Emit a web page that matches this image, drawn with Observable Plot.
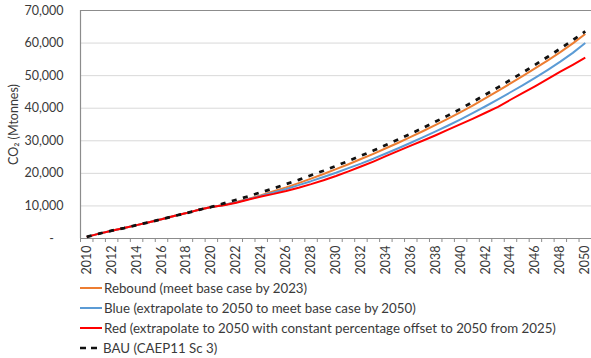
<!DOCTYPE html>
<html>
<head>
<meta charset="utf-8">
<script src="https://cdn.jsdelivr.net/npm/d3@7"></script>
<script src="https://cdn.jsdelivr.net/npm/@observablehq/plot@0.6"></script>
<style>
  html, body { margin: 0; padding: 0; background: #fff; }
  #chart { width: 591px; }
  .legend { font-family: Lato, "Liberation Sans", sans-serif; font-size: 13.3px; color: #3a3a3a; }
  .legend .row { height: 20px; display: flex; align-items: center; padding-left: 80px; }
  .legend svg { display: block; margin-right: 1px; }
</style>
</head>
<body>
<div id="chart"></div>
<script>
const years = [2010,2011,2012,2013,2014,2015,2016,2017,2018,2019,2020,2021,2022,2023,2024,2025,2026,2027,2028,2029,2030,2031,2032,2033,2034,2035,2036,2037,2038,2039,2040,2041,2042,2043,2044,2045,2046,2047,2048,2049,2050];
const labelYears = [2010,2012,2014,2016,2018,2020,2022,2024,2026,2028,2030,2032,2034,2036,2038,2040,2042,2044,2046,2048,2050];
const tickEdges = [2009.5,2010.5,2011.5,2012.5,2013.5,2014.5,2015.5,2016.5,2017.5,2018.5,2019.5,2020.5,2021.5,2022.5,2023.5,2024.5,2025.5,2026.5,2027.5,2028.5,2029.5,2030.5,2031.5,2032.5,2033.5,2034.5,2035.5,2036.5,2037.5,2038.5,2039.5,2040.5,2041.5,2042.5,2043.5,2044.5,2045.5,2046.5,2047.5,2048.5,2049.5,2050.5];
const xDomain = [2009.5, 2050.5];
const yDomain = [0, 70000];
const yTicks = [0,10000,20000,30000,40000,50000,60000,70000];
const gridTicks = [10000,20000,30000,40000,50000,60000];

const history = [500,1500,2400,3200,4100,5000,5900,6900,7800,8800,9700];
const rebound = [...history, 10300,11200,12200,13300,14500,15700,17000,18400,19800,21300, 22800,24400,26000,27700,29400,31200,33000,34900,36800,38800, 40900,43100,45300,47600,49900,52300,54700,57200,59900,62800];
const blue    = [...history, 10300,11100,12100,13100,14100,15200,16400,17600,18900,20200, 21600,23000,24500,26100,27700,29400,31100,32900,34700,36600, 38600,40600,42700,44900,47100,49400,51800,54300,57000,60000];
const red     = [...history, 10200,11000,12000,12900,13700,14600,15600,16700,17900,19200, 20600,22100,23600,25300,26900,28500,30100,31700,33400,35100, 36800,38600,40400,42600,44700,46800,49000,51200,53300,55500];
const bau     = [...history, 10800,11900,13000,14200,15400,16700,18000,19400,20800,22300, 23800,25400,27000,28700,30400,32200,34000,35900,37800,39800, 42000,44200,46400,48700,51000,53400,55800,58300,60900,63600];

const seriesNames = [
  "Rebound (meet base case by 2023)",
  "Blue (extrapolate to 2050 to meet base case by 2050)",
  "Red (extrapolate to 2050 with constant percentage offset to 2050 from 2025)",
  "BAU (CAEP11 Sc 3)"
];
const seriesValues = [rebound, blue, red, bau];
const seriesColors = ["#ED7D31", "#5B9BD5", "#FF0000", "#111111"];
const seriesWidths = [2, 2, 2, 2.75];
const seriesDash = [null, null, null, "5,6.5"];

const series = seriesNames.map((name, i) => ({
  name, color: seriesColors[i], width: seriesWidths[i], dash: seriesDash[i],
  rows: years.map((year, j) => ({year, value: seriesValues[i][j]}))
}));

const fmtY = d => d === 0 ? "-\u00a0\u00a0\u00a0" : d3.format(",")(d);

const plot = Plot.plot({
  width: 591,
  height: 278,
  marginLeft: 80,
  marginRight: 0,
  marginTop: 10,
  marginBottom: 40,
  x: {domain: xDomain},
  y: {domain: yDomain},
  style: {fontFamily: "Lato, 'Liberation Sans', sans-serif", fontSize: "12.5px", color: "#3a3a3a", background: "#fff"},
  marks: [
    Plot.ruleY(gridTicks, {stroke: "#d9d9d9", strokeWidth: 1}),
    Plot.ruleY(yDomain, {stroke: "#8c8c8c", strokeWidth: 1.2}),
    Plot.ruleX([xDomain[0]], {stroke: "#8c8c8c", strokeWidth: 1.2}),
    Plot.axisX(tickEdges, {tickSize: 4, tickFormat: () => "", stroke: "#8c8c8c", label: null}),
    Plot.axisX(labelYears, {tickSize: 0, tickPadding: 7, tickRotate: -90, tickFormat: d => String(d), label: null}),
    Plot.axisY(yTicks, {tickSize: 0, tickPadding: 17, tickFormat: fmtY, label: "CO₂ (Mtonnes)", labelAnchor: "center", labelOffset: 71, labelArrow: "none"}),
    ...series.map(s => Plot.line(s.rows, {x: "year", y: "value", stroke: s.color, strokeWidth: s.width, strokeDasharray: s.dash, strokeLinecap: "butt"}))
  ]
});
document.getElementById("chart").appendChild(plot);

const legend = document.createElement("div");
legend.className = "legend";
series.forEach(s => {
  const row = document.createElement("div");
  row.className = "row";
  const line = s.dash
    ? `<line x1="0" x2="6" y1="5" y2="5" stroke="${s.color}" stroke-width="2.5"/><line x1="11" x2="17" y1="5" y2="5" stroke="${s.color}" stroke-width="2.5"/>`
    : `<line x1="0" x2="22" y1="5" y2="5" stroke="${s.color}" stroke-width="2"/>`;
  row.innerHTML = `<svg width="${s.dash ? 22 : 23}" height="10">${line}</svg><span>${s.name}</span>`;
  legend.appendChild(row);
});
document.getElementById("chart").appendChild(legend);
</script>
</body>
</html>
